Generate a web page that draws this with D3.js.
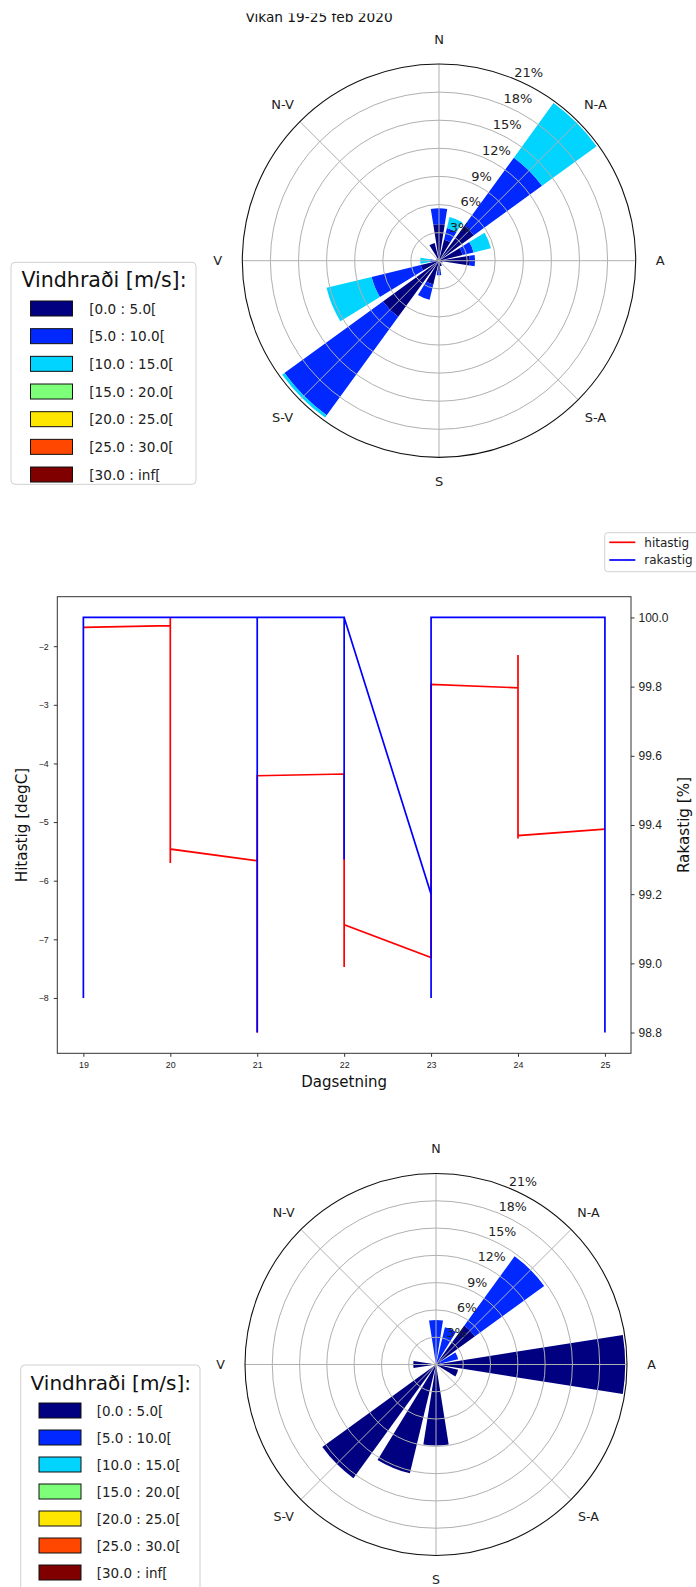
<!DOCTYPE html>
<html>
<head>
<meta charset="utf-8">
<script src="https://cdnjs.cloudflare.com/ajax/libs/d3/7.8.5/d3.min.js"></script>
<style>
  body { margin: 0; background: #fff; }
  svg { display: block; font-family: "DejaVu Sans", sans-serif; }
  .tick line { stroke: #333; }
  .domain { stroke: none; }
</style>
</head>
<body>
<svg id="chart" width="696" height="1587"></svg>
<script>

// ---------------------------- data ------------------------------------
var titleText = "Vikan 19-25 feb 2020";

// 16 sectors, clockwise from north
var sectorAngles = [0, 22.5, 45, 67.5, 90, 112.5, 135, 157.5, 180, 202.5, 225, 247.5, 270, 292.5, 315, 337.5];
var compassAngles = [0, 45, 90, 135, 180, 225, 270, 315];
var compassLabels = ["N", "N-A", "A", "S-A", "S", "S-V", "V", "N-V"];
var radialTicks = [3, 6, 9, 12, 15, 18, 21];

var speedBins = ["[0.0 : 5.0[", "[5.0 : 10.0[", "[10.0 : 15.0[", "[15.0 : 20.0[",
                 "[20.0 : 25.0[", "[25.0 : 30.0[", "[30.0 : inf["];

// frequency in % per sector (top rose, whole week)
var topSpeed0_5   = [3.9, 2.3, 4.6, 2.6, 3.3, 0.4, 0.2, 0.6, 1.1, 2.6, 7.4, 2.0, 0.5, 0.3, 0.3, 1.95];
var topSpeed5_10  = [1.7, 1.3, 9.0, 1.2, 0.55, 0, 0, 0, 0.45, 1.7, 13.0, 5.4, 0.45, 0, 0, 0];
var topSpeed10_15 = [0, 1.2, 7.2, 1.9, 0, 0, 0, 0, 0, 0, 0.3, 4.95, 1.05, 0, 0, 0];

// frequency in % per sector (bottom rose)
var botSpeed0_5  = [0, 0, 5.3, 0.5, 20.8, 2.5, 0, 0, 8.9, 12.3, 15.45, 0, 2.5, 0, 0, 0];
var botSpeed5_10 = [4.9, 4.2, 9.4, 2.0, 0, 0, 0, 0, 0, 0, 0, 0, 0, 0, 0, 0];

// time series, x = day of february
var dayTicks = [19, 20, 21, 22, 23, 24, 25];
var hitastig = [[19, -1.68], [20, -1.65], [20, -1.51], [20, -5.70], [20, -5.46], [21, -5.66],
                [21, -8.59], [21, -4.21], [22, -4.18], [22, -7.47], [22, -6.75], [23, -7.31],
                [23, -2.65], [24, -2.71], [24, -2.15], [24, -5.28], [24, -5.23], [25, -5.12]];
var rakastig = [[19, 98.9], [19, 100], [20, 100], [21, 100], [21, 98.8], [21, 100], [22, 100],
                [22, 99.3], [22, 100], [23, 99.2], [23, 98.9], [23, 100], [24, 100], [25, 100],
                [25, 98.8]];
var hitaTicks = [-8, -7, -6, -5, -4, -3, -2];
var rakaTicks = [98.8, 99.0, 99.2, 99.4, 99.6, 99.8, 100.0];

// jet colours for the speed bins
var binColors = ["#000080", "#0028ff", "#00d4ff", "#7dff7a", "#ffe600", "#ff4700", "#800000"];

var svg = d3.select("#chart");
svg.append("rect").attr("width", 696).attr("height", 1587).attr("fill", "#fff");

// ---------------------------- wind rose ------------------------------------
function drawRose(cx, cy, R, fs, bins) {
  var g = svg.append("g").attr("transform", "translate(" + cx + "," + cy + ")");
  var r = d3.scaleLinear().domain([0, 21]).range([0, R]);
  var half = 22.5 * 0.8 / 2 * Math.PI / 180;

  var arc = d3.arc();

  // stacked bars, inner bin first
  var offset = sectorAngles.map(function() { return 0; });
  bins.forEach(function(vals, j) {
    g.append("g").selectAll("path")
      .data(vals)
    .enter().append("path")
      .attr("fill", binColors[j])
      .attr("d", function(v, i) {
        var a = sectorAngles[i] * Math.PI / 180;
        var p = arc({ innerRadius: r(offset[i]), outerRadius: r(offset[i] + v),
                      startAngle: a - half, endAngle: a + half });
        return v > 0 ? p : null;
      });
    vals.forEach(function(v, i) { offset[i] += v; });
  });

  // grid on top of the bars
  g.selectAll(".ring")
      .data(radialTicks.slice(0, -1))
    .enter().append("circle")
      .attr("r", function(d) { return r(d); })
      .attr("fill", "none")
      .attr("stroke", "#b0b0b0")
      .attr("stroke-width", 1);

  g.selectAll(".spoke")
      .data(compassAngles)
    .enter().append("line")
      .attr("x2", function(d) { return R * Math.sin(d * Math.PI / 180); })
      .attr("y2", function(d) { return -R * Math.cos(d * Math.PI / 180); })
      .attr("stroke", "#b0b0b0")
      .attr("stroke-width", 1);

  g.append("circle")
      .attr("r", R)
      .attr("fill", "none")
      .attr("stroke", "#111")
      .attr("stroke-width", 1.1);

  // compass labels
  g.selectAll(".dir")
      .data(compassAngles)
    .enter().append("text")
      .attr("x", function(d) { return (R + 24.5) * Math.sin(d * Math.PI / 180); })
      .attr("y", function(d) { return -(R + 24.5) * Math.cos(d * Math.PI / 180); })
      .attr("dy", "0.35em")
      .attr("text-anchor", "middle")
      .style("font-size", fs + "px")
      .attr("fill", "#222")
      .text(function(d, i) { return compassLabels[i]; });

  // percent labels along NNE
  var la = 22.5 * Math.PI / 180;
  g.selectAll(".pct")
      .data(radialTicks)
    .enter().append("text")
      .attr("x", function(d) { return r(d) * Math.sin(la); })
      .attr("y", function(d) { return -r(d) * Math.cos(la) - 2.3; })
      .style("font-size", fs + "px")
      .attr("fill", "#222")
      .text(function(d) { return d + "%"; });
}

function drawRoseLegend(x0, y0, w, h, fsTitle, fsItem, step, patchX, labelX, titleY, firstY) {
  var g = svg.append("g");
  g.append("rect")
      .attr("x", x0).attr("y", y0)
      .attr("width", w).attr("height", h)
      .attr("rx", 4)
      .attr("fill", "#fff")
      .attr("stroke", "#d0d0d0");

  g.append("text")
      .attr("x", x0 + w / 2 + 0.5)
      .attr("y", titleY)
      .attr("text-anchor", "middle")
      .style("font-size", fsTitle + "px")
      .attr("fill", "#111")
      .text("Vindhraði [m/s]:");

  var rows = g.selectAll(".row")
      .data(speedBins)
    .enter().append("g")
      .attr("transform", function(d, i) { return "translate(0," + (firstY + i * step) + ")"; });

  rows.append("rect")
      .attr("x", patchX).attr("y", -7.5)
      .attr("width", 42).attr("height", 15)
      .attr("fill", function(d, i) { return binColors[i]; })
      .attr("stroke", "#111")
      .attr("stroke-width", 1);

  rows.append("text")
      .attr("x", labelX)
      .attr("y", 5)
      .style("font-size", fsItem + "px")
      .attr("fill", "#222")
      .text(function(d) { return d; });
}

drawRose(439, 260.7, 196.7, 13, [topSpeed0_5, topSpeed5_10, topSpeed10_15]);
drawRoseLegend(11, 262.3, 185, 222, 20.6, 13.6, 27.67, 30.5, 89.3, 287.2, 308.5);

drawRose(436, 1364.5, 191, 12.6, [botSpeed0_5, botSpeed5_10]);
drawRoseLegend(20.7, 1365, 179.3, 240, 20, 13.5, 27, 39, 96.7, 1389.8, 1410.5);

// title, the top of the figure is cut off in the original
svg.append("text")
    .attr("x", 319)
    .attr("y", 21.7)
    .attr("text-anchor", "middle")
    .style("font-size", "13.7px")
    .attr("fill", "#111")
    .text(titleText);
svg.append("rect").attr("width", 696).attr("height", 13.4).attr("fill", "#fff");

// ---------------------------- line chart ------------------------------------
var L = 57.3, Rr = 631, T = 596.7, B = 1053.3;

function padded(ext) {
  var m = (ext[1] - ext[0]) * 0.05;
  return [ext[0] - m, ext[1] + m];
}

var x = d3.scaleLinear().domain(padded(d3.extent(dayTicks))).range([L, Rr]);
var yT = d3.scaleLinear().domain(padded(d3.extent(hitastig, function(d) { return d[1]; }))).range([B, T]);
var yH = d3.scaleLinear().domain(padded(d3.extent(rakastig, function(d) { return d[1]; }))).range([B, T]);

var lc = svg.append("g");

var lineT = d3.line().x(function(d) { return x(d[0]); }).y(function(d) { return yT(d[1]); });
var lineH = d3.line().x(function(d) { return x(d[0]); }).y(function(d) { return yH(d[1]); });

lc.append("path")
    .attr("d", lineT(hitastig))
    .attr("fill", "none")
    .attr("stroke", "#ff0000")
    .attr("stroke-width", 1.7);

lc.append("path")
    .attr("d", lineH(rakastig))
    .attr("fill", "none")
    .attr("stroke", "#0000ff")
    .attr("stroke-width", 1.7);

lc.append("rect")
    .attr("x", L).attr("y", T)
    .attr("width", Rr - L).attr("height", B - T)
    .attr("fill", "none")
    .attr("stroke", "#333")
    .attr("stroke-width", 1);

// axes
var xAxis = lc.append("g")
    .attr("transform", "translate(0," + B + ")")
    .call(d3.axisBottom(x).tickValues(dayTicks).tickSize(3.5).tickPadding(5).tickFormat(d3.format("d")));
xAxis.selectAll("text").style("font-size", "8.9px").attr("fill", "#222");

var yAxisL = lc.append("g")
    .attr("transform", "translate(" + L + ",0)")
    .call(d3.axisLeft(yT).tickValues(hitaTicks).tickSize(3.5).tickPadding(5));
yAxisL.selectAll("text").style("font-size", "8.9px").attr("fill", "#222");

var yAxisR = lc.append("g")
    .attr("transform", "translate(" + Rr + ",0)")
    .call(d3.axisRight(yH).tickValues(rakaTicks).tickSize(3.5).tickPadding(4).tickFormat(d3.format(".1f")));
yAxisR.selectAll("text").style("font-size", "12px").attr("fill", "#222");

// axis labels
lc.append("text")
    .attr("transform", "translate(26.7," + ((T + B) / 2) + ") rotate(-90)")
    .style("text-anchor", "middle")
    .style("font-size", "15.2px")
    .attr("fill", "#111")
    .text("Hitastig [degC]");

lc.append("text")
    .attr("transform", "translate(688.5," + ((T + B) / 2) + ") rotate(-90)")
    .style("text-anchor", "middle")
    .style("font-size", "15.2px")
    .attr("fill", "#111")
    .text("Rakastig [%]");

lc.append("text")
    .attr("x", (L + Rr) / 2)
    .attr("y", 1087)
    .style("text-anchor", "middle")
    .style("font-size", "15px")
    .attr("fill", "#111")
    .text("Dagsetning");

// line legend, cut by the right edge
var lg = svg.append("g");
lg.append("rect")
    .attr("x", 604.7).attr("y", 532.7)
    .attr("width", 110).attr("height", 39)
    .attr("rx", 3)
    .attr("fill", "#fff")
    .attr("stroke", "#d0d0d0");

var lgRows = lg.selectAll(".lrow")
    .data([{ name: "hitastig", color: "#ff0000" }, { name: "rakastig", color: "#0000ff" }])
  .enter().append("g")
    .attr("transform", function(d, i) { return "translate(0," + (542.3 + i * 17.7) + ")"; });

lgRows.append("line")
    .attr("x1", 609.3).attr("x2", 635.3)
    .attr("stroke", function(d) { return d.color; })
    .attr("stroke-width", 1.7);

lgRows.append("text")
    .attr("x", 644.3)
    .attr("y", 4.2)
    .style("font-size", "12px")
    .attr("fill", "#222")
    .text(function(d) { return d.name; });

</script>
</body>
</html>
